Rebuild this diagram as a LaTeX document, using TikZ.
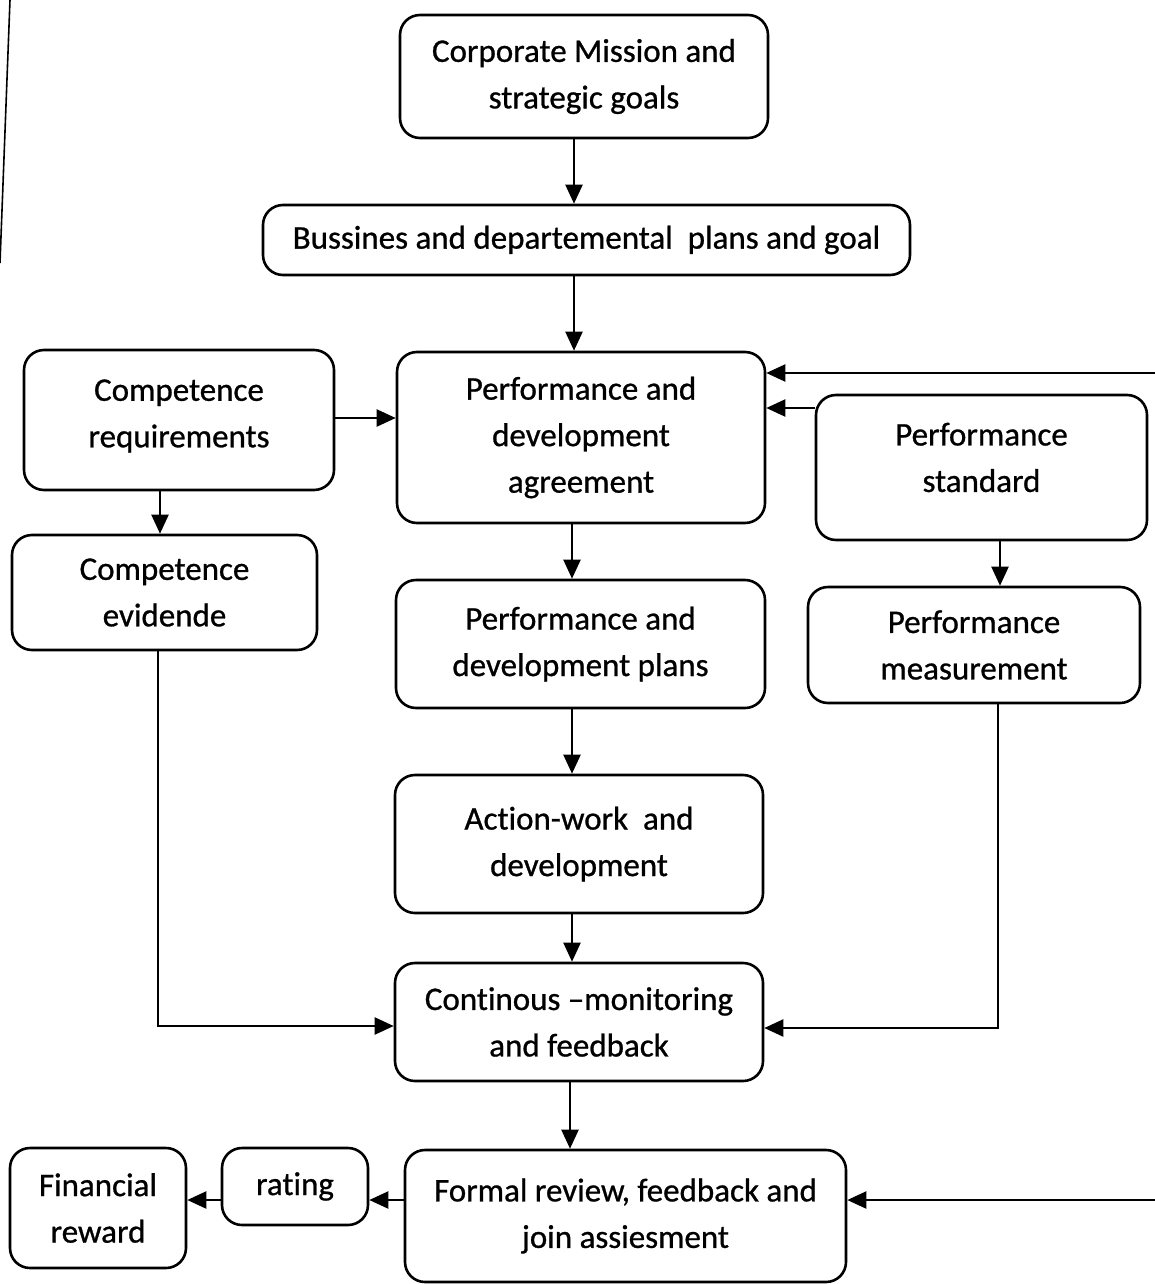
\documentclass[tikz,border=0pt]{standalone}
\usepackage{fontspec}
\setmainfont{Carlito}[Ligatures=NoCommon,FakeBold=0.8]
\usetikzlibrary{arrows.meta}
\tikzset{
  box/.style={draw=black, line width=2.6pt, rounded corners=20pt, align=center, inner sep=0pt,
    font=\fontsize{33}{46.5}\selectfont, text=black},
  arr/.style={line width=2.2pt, -{Triangle[length=19pt,width=17pt]}},
}
\newcommand{\bx}[7][0pt]{\node[box, minimum width=#5-#3, minimum height=#6-#4] (#2) at ({(#3+#5)/2},{(#4+#6)/2}) {\raisebox{#1}[\height][\depth]{\tikz[baseline]\node[inner sep=0pt,align=center]{#7};}};}
\begin{document}
\begin{tikzpicture}[x=1pt,y=-1pt]
\useasboundingbox (0,0) rectangle (1155,1284);
\draw[line width=1.6pt] (10,0) -- (0,263);
\bx{corp}{400}{15}{768}{138}{Corporate Mission and\\strategic goals}
\bx{buss}{263}{205}{910}{275}{Bussines and departemental\ \ plans and goal}
\bx[4pt]{creq}{24}{350}{334}{490}{Competence\\requirements}
\bx{agree}{397}{352}{765}{523}{Performance and\\development\\agreement}
\bx[10pt]{pstd}{816}{395}{1147}{540}{Performance\\standard}
\bx{cevi}{12}{535}{317}{650}{Competence\\evidende}
\bx{plans}{396}{580}{765}{708}{Performance and\\development plans}
\bx{pmeas}{808}{587}{1140}{703}{Performance\\measurement}
\bx{act}{395}{775}{763}{913}{Action-work\ \ and\\development}
\bx{cont}{395}{963}{763}{1081}{Continous --monitoring\\and feedback}
\bx{formal}{405}{1150}{846}{1282}{Formal review, feedback and\\join assiesment}
\bx{rating}{222}{1148}{368}{1225}{rating}
\bx{fin}{10}{1148}{186}{1268}{Financial\\reward}
\coordinate (r1) at (1155,373);
\coordinate (r2) at (1155,1200);
\draw[arr] (corp.south -| 574,0) -- (buss.north -| 574,0);
\draw[arr] (buss.south -| 574,0) -- (agree.north -| 574,0);
\draw[arr] (creq.east |- 0,418) -- (agree.west |- 0,418);
\draw[arr] (creq.south -| 160,0) -- (cevi.north -| 160,0);
\draw[arr] (agree.south -| 572,0) -- (plans.north -| 572,0);
\draw[arr] (pstd.west |- 0,408) -- (agree.east |- 0,408);
\draw[arr] (r1) -- (agree.east |- r1);
\draw[arr] (pstd.south -| 1000,0) -- (pmeas.north -| 1000,0);
\draw[arr] (plans.south -| 572,0) -- (act.north -| 572,0);
\draw[arr] (act.south -| 572,0) -- (cont.north -| 572,0);
\draw[arr] (cevi.south -| 158,0) -- (158,1026) -- (cont.west |- 0,1026);
\draw[arr] (pmeas.south -| 998,0) -- (998,1028) -- (cont.east |- 0,1028);
\draw[arr] (cont.south -| 570,0) -- (formal.north -| 570,0);
\draw[arr] (formal.west |- 0,1200) -- (rating.east |- 0,1200);
\draw[arr] (rating.west |- 0,1200) -- (fin.east |- 0,1200);
\draw[arr] (r2) -- (formal.east |- r2);
\end{tikzpicture}
\end{document}
